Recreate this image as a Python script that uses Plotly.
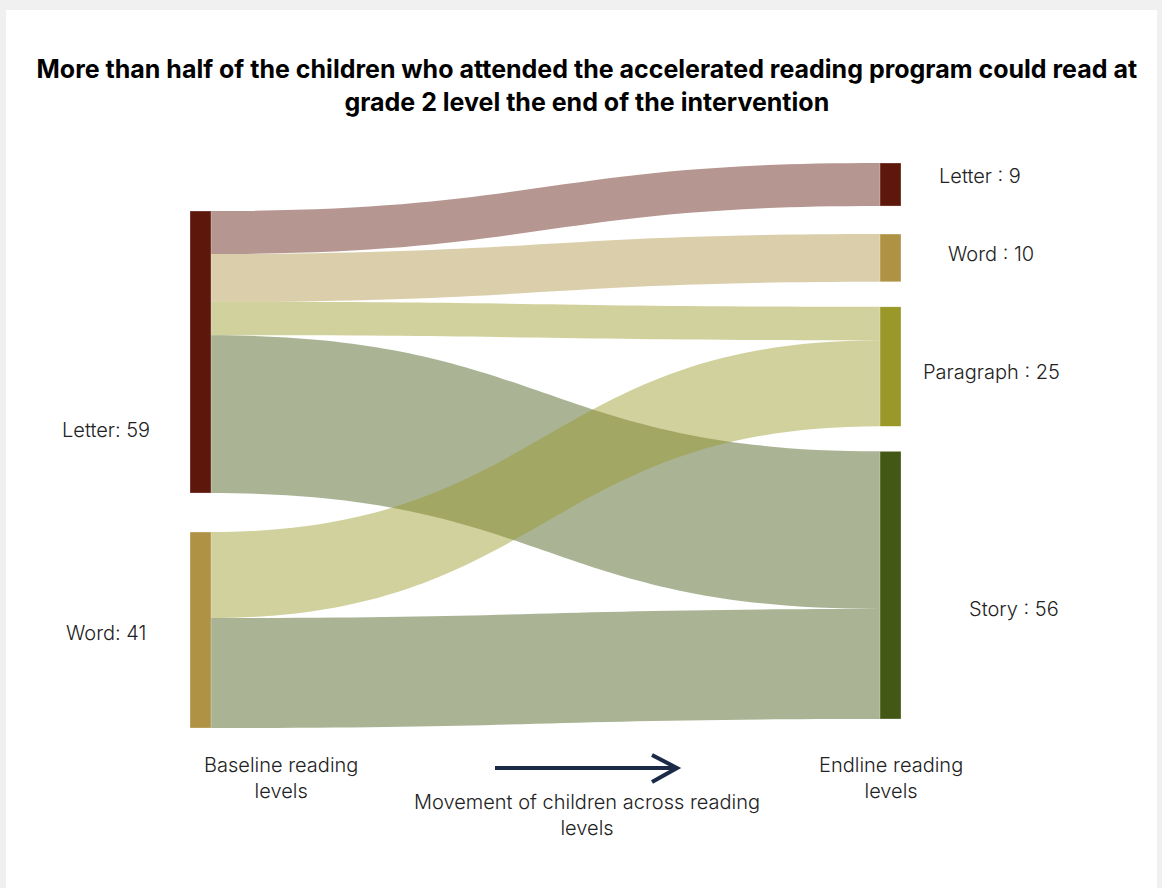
import plotly.graph_objects as go

# ---- data -------------------------------------------------------------
baseline_levels = ["Letter", "Word"]
baseline_counts = [59, 41]
endline_levels = ["Letter", "Word", "Paragraph", "Story"]
endline_counts = [9, 10, 25, 56]

# flows: baseline level -> endline level, number of children
flow_source = ["Letter", "Letter", "Letter", "Letter", "Word", "Word"]
flow_target = ["Letter", "Word", "Paragraph", "Story", "Paragraph", "Story"]
flow_value = [9, 10, 7, 33, 18, 23]

title_text = ("More than half of the children who attended the accelerated reading program could read at"
              "<br>grade 2 level the end of the intervention")

# ---- styling ----------------------------------------------------------
W, H = 1162, 888
level_colors = {
    "Letter": (94, 23, 11),
    "Word": (176, 146, 69),
    "Paragraph": (154, 152, 40),
    "Story": (67, 88, 20),
}
LINK_ALPHA = 0.45
TEXT_FONT = "Inter, 'Helvetica Neue', Arial, sans-serif"
TEXT_COLOR = "#222222"


def fx(px):
    return px / W


def fy(py):
    return 1 - py / H


# sankey drawing area in pixels
AREA_TOP, AREA_BOTTOM = 163, 719
AREA_H = AREA_BOTTOM - AREA_TOP
PAD = 26
KY = (AREA_H - (len(endline_levels) - 1) * PAD) / sum(endline_counts)


def column_centres(values, top, gaps):
    out, y = [], top
    for i, v in enumerate(values):
        h = v * KY
        out.append((y + h / 2) / AREA_H)
        if i < len(gaps):
            y += h + gaps[i]
    return out


left_x, right_x = 200.5 / W, 890.5 / W
node_names = [f"Baseline {n}" for n in baseline_levels] + [f"Endline {n}" for n in endline_levels]
node_x = [left_x] * len(baseline_levels) + [right_x] * len(endline_levels)
node_y = column_centres(baseline_counts, 48, [39]) + column_centres(endline_counts, 0, [28, 25, 25])
node_colors = ["rgb(%d,%d,%d)" % level_colors[n] for n in baseline_levels + endline_levels]

src_idx = [baseline_levels.index(s) for s in flow_source]
tgt_idx = [len(baseline_levels) + endline_levels.index(t) for t in flow_target]
link_colors = ["rgba(%d,%d,%d,%.2f)" % (*level_colors[t], LINK_ALPHA) for t in flow_target]

fig = go.Figure(go.Sankey(
    arrangement="fixed",
    domain=dict(x=[0, 1], y=[fy(AREA_BOTTOM), fy(AREA_TOP)]),
    node=dict(
        label=node_names,
        x=node_x,
        y=node_y,
        color=node_colors,
        pad=PAD,
        thickness=21,
        line=dict(color="rgba(255,255,255,0.6)", width=0.5),
    ),
    link=dict(
        source=src_idx,
        target=tgt_idx,
        value=flow_value,
        color=link_colors,
    ),
    textfont=dict(color="rgba(0,0,0,0)", size=1),
))

# white card on a light grey page
fig.add_shape(type="rect", xref="paper", yref="paper",
              x0=fx(6), x1=fx(1157), y0=fy(888), y1=fy(10),
              fillcolor="white", line=dict(width=0), layer="below")

annotations = []

# node labels
left_label_pos = [(106, 430), (106, 633)]
for name, count, (lx, ly) in zip(baseline_levels, baseline_counts, left_label_pos):
    annotations.append(dict(text=f"{name}: {count}", x=fx(lx), y=fy(ly)))

right_label_pos = [(980, 176), (991, 254), (991, 372), (1014, 609)]
for name, count, (lx, ly) in zip(endline_levels, endline_counts, right_label_pos):
    annotations.append(dict(text=f"{name} : {count}", x=fx(lx), y=fy(ly)))

# axis captions under the diagram
annotations.append(dict(text="Baseline reading<br>levels", x=fx(281), y=fy(778)))
annotations.append(dict(text="Endline reading<br>levels", x=fx(891), y=fy(778)))
annotations.append(dict(text="Movement of children across reading<br>levels", x=fx(587), y=fy(815)))

for a in annotations:
    a.update(xref="paper", yref="paper", showarrow=False, xanchor="center", yanchor="middle",
             font=dict(family=TEXT_FONT, size=20, color=TEXT_COLOR, weight=300))

# arrow showing direction of movement
ARROW_COLOR = "#1b2a47"
fig.add_shape(type="line", xref="paper", yref="paper",
              x0=fx(495), x1=fx(676), y0=fy(768), y1=fy(768),
              line=dict(color=ARROW_COLOR, width=4))
fig.add_shape(type="path", xref="paper", yref="paper",
              path=f"M {fx(652)},{fy(755)} L {fx(677)},{fy(768)} L {fx(652)},{fy(782)}",
              line=dict(color=ARROW_COLOR, width=4))

fig.update_layout(
    width=W, height=H,
    margin=dict(l=0, r=0, t=0, b=0),
    paper_bgcolor="#f0f0f0",
    plot_bgcolor="white",
    annotations=annotations,
    title=dict(text=title_text, x=0.505, xanchor="center", y=fy(78), yanchor="middle",
               yref="container",
               font=dict(family=TEXT_FONT, size=25, color="#000000", weight=700)),
)

fig.write_html("out.html")
